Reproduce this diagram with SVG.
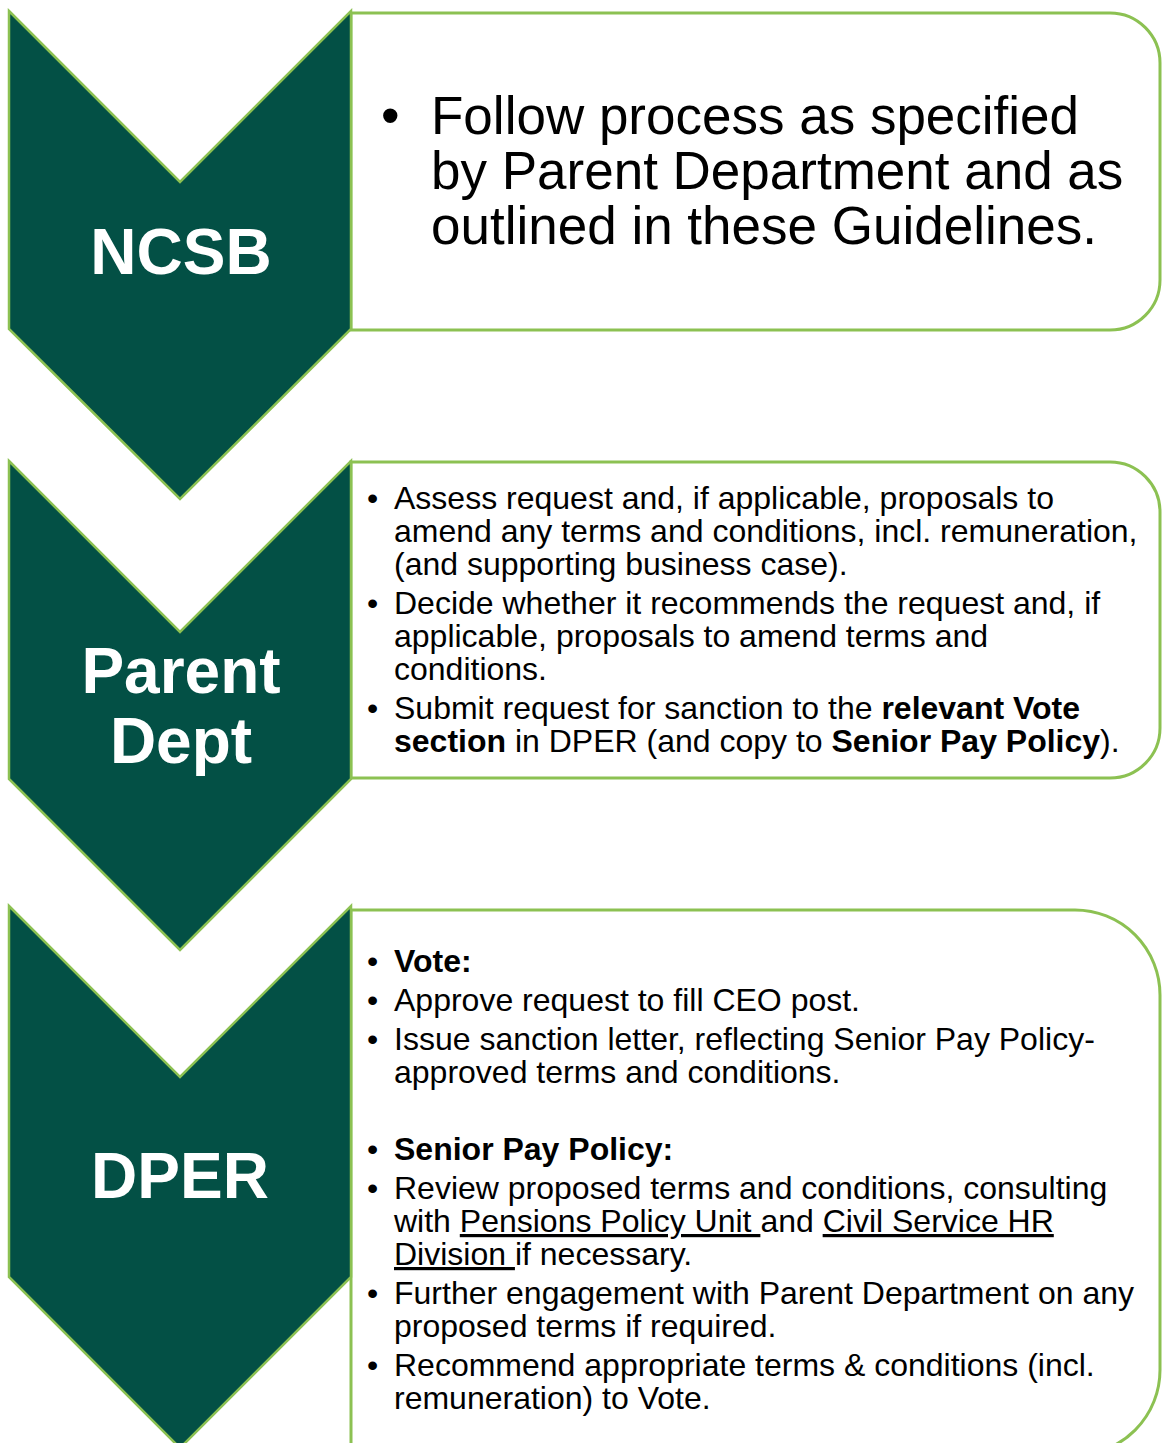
<svg xmlns="http://www.w3.org/2000/svg" width="1162" height="1443" viewBox="0 0 1162 1443">
  <style>
    .chev { fill: #035045; stroke: #8CC152; stroke-width: 2.5; stroke-linejoin: miter; }
    .box { fill: #ffffff; stroke: #8CC152; stroke-width: 3; }
    .lbl { font-family: "Liberation Sans", Arial, sans-serif; font-weight: bold; font-size: 64px; fill: #ffffff; text-anchor: middle; }
    .body { font-family: "Liberation Sans", Arial, sans-serif; font-size: 32px; fill: #000000; }
    .big { font-size: 53px; }
    .b { font-weight: bold; }
    .u { text-decoration: underline; }
  </style>
  <rect width="1162" height="1443" fill="#ffffff"/>

  <!-- Detail panels (square on the left, rounded on the right) -->
  <g id="detail-ncsb">
    <path class="box" d="M351,13 H1110 A50,50 0 0 1 1160,63 V280 A50,50 0 0 1 1110,330 H351 Z"/>
    <text class="body big" x="381" y="134">•</text>
    <text class="body big" x="431" y="134">Follow process as specified</text>
    <text class="body big" x="431" y="189">by Parent Department and as</text>
    <text class="body big" x="431" y="244">outlined in these Guidelines.</text>
  </g>

  <g id="detail-parent-dept">
    <path class="box" d="M351,462 H1110 A50,50 0 0 1 1160,512 V728 A50,50 0 0 1 1110,778 H351 Z"/>
    <g class="body">
      <text x="367" y="509">•</text>
      <text x="394" y="509">Assess request and, if applicable, proposals to</text>
      <text x="394" y="542">amend any terms and conditions, incl. remuneration,</text>
      <text x="394" y="575">(and supporting business case).</text>
      <text x="367" y="614">•</text>
      <text x="394" y="614">Decide whether it recommends the request and, if</text>
      <text x="394" y="647">applicable, proposals to amend terms and</text>
      <text x="394" y="680">conditions.</text>
      <text x="367" y="719">•</text>
      <text x="394" y="719">Submit request for sanction to the <tspan class="b">relevant Vote</tspan></text>
      <text x="394" y="752"><tspan class="b">section</tspan> in DPER (and copy to <tspan class="b">Senior Pay Policy</tspan>).</text>
    </g>
  </g>

  <g id="detail-dper">
    <path class="box" d="M351,910 H1075 A85,85 0 0 1 1160,995 V1370 A85,85 0 0 1 1075,1455 H351 Z"/>
    <g class="body">
      <text x="367" y="972">•</text>
      <text x="394" y="972" class="b">Vote:</text>
      <text x="367" y="1011">•</text>
      <text x="394" y="1011">Approve request to fill CEO post.</text>
      <text x="367" y="1050">•</text>
      <text x="394" y="1050">Issue sanction letter, reflecting Senior Pay Policy-</text>
      <text x="394" y="1083">approved terms and conditions.</text>
      <text x="367" y="1160">•</text>
      <text x="394" y="1160" class="b">Senior Pay Policy:</text>
      <text x="367" y="1199">•</text>
      <text x="394" y="1199">Review proposed terms and conditions, consulting</text>
      <text x="394" y="1232" xml:space="preserve">with <tspan class="u">Pensions Policy Unit </tspan>and <tspan class="u">Civil Service HR</tspan></text>
      <text x="394" y="1265" xml:space="preserve"><tspan class="u">Division </tspan>if necessary.</text>
      <text x="367" y="1304">•</text>
      <text x="394" y="1304">Further engagement with Parent Department on any</text>
      <text x="394" y="1337">proposed terms if required.</text>
      <text x="367" y="1376">•</text>
      <text x="394" y="1376">Recommend appropriate terms &amp; conditions (incl.</text>
      <text x="394" y="1409">remuneration) to Vote.</text>
    </g>
  </g>

  <!-- Process chevrons -->
  <g id="step-ncsb">
    <path class="chev" d="M9,11 L180,182 L351,11 V329 L180,499 L9,329 Z"/>
    <text class="lbl" x="181" y="274">NCSB</text>
  </g>

  <g id="step-parent-dept">
    <path class="chev" d="M9,461 L180,632 L351,461 V779 L180,950 L9,779 Z"/>
    <text class="lbl" x="181" y="693">Parent</text>
    <text class="lbl" x="181" y="763">Dept</text>
  </g>

  <g id="step-dper">
    <path class="chev" d="M9,906 L180,1077 L351,906 V1277 L180,1448 L9,1277 Z"/>
    <text class="lbl" x="180" y="1198">DPER</text>
  </g>
</svg>
